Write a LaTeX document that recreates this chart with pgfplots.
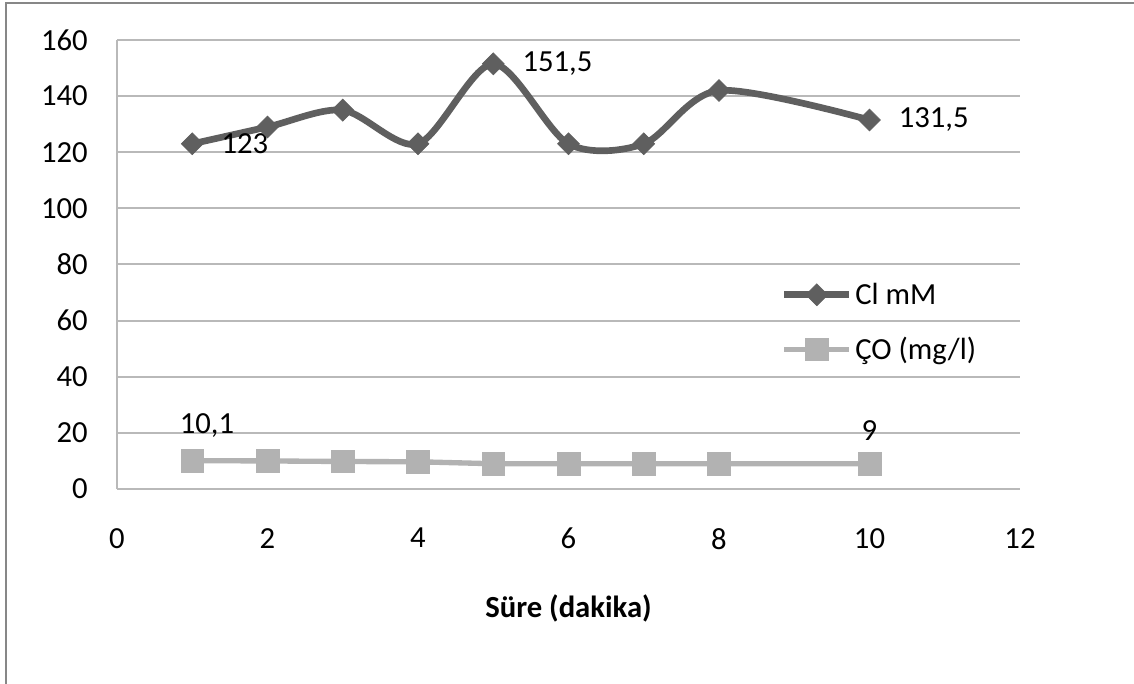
\documentclass[border=0pt]{standalone}
\usepackage{fontspec}
\setmainfont{Carlito}
\usepackage{pgfplots}
\pgfplotsset{compat=1.18}
\usepackage{pgfplotstable}

\definecolor{clgray}{RGB}{95,95,95}
\definecolor{cogray}{RGB}{178,178,178}
\definecolor{gridgray}{RGB}{185,185,185}
\definecolor{framegray}{RGB}{135,135,135}

\newcommand{\chartfont}{\fontsize{23}{27}\selectfont}

% time (min), value, label, label x-offset (pt)
\pgfplotstableread{
x   y      lab    dx
1   123    123    0
2   129    {}     0
3   135    {}     0
4   123    {}     0
5   151.5  151,5  0
6   123    {}     0
7   123    {}     0
8   142    {}     0
10  131.5  131,5  0
}\cltable

\pgfplotstableread{
x   y      lab    dx
1   10.1   10,1   11
2   10     {}     0
3   9.8    {}     0
4   9.7    {}     0
5   9      {}     0
6   9      {}     0
7   9      {}     0
8   9      {}     0
10  9      9      0
}\cotable

\begin{document}
\begin{tikzpicture}
\useasboundingbox (0,0) rectangle (850.5pt,513pt);
\draw[framegray, line width=1.5pt] (4.5pt,0) -- (4.5pt,510.5pt) -- (850.5pt,510.5pt);
\begin{axis}[
  at={(87.75pt,146.25pt)}, anchor=south west,
  width=677.25pt, height=336.75pt, scale only axis,
  xmin=0, xmax=12, ymin=0, ymax=160,
  xtick={0,2,...,12}, ytick={0,20,...,160},
  axis x line*=bottom, axis y line*=left,
  axis line style={gridgray, line width=1.5pt, -},
  ymajorgrids, major grid style={gridgray, line width=1.5pt},
  major tick length=0pt,
  /pgf/number format/assume math mode=true,
  tick label style={font=\chartfont, inner sep=0pt, text=black},
  yticklabel style={xshift=-21.75pt},
  xticklabel style={yshift=-29.25pt},
  xlabel={\bfseries Süre (dakika)},
  xlabel style={at={(axis description cs:0.5,0)}, anchor=north, yshift=-78.75pt, inner sep=0pt, font=\chartfont},
  legend style={at={(axis description cs:0.735,0.465)}, anchor=north west,
    draw=none, fill=none, inner sep=0pt, row sep=19pt, font=\chartfont},
  legend cell align=left,
  legend image code/.code={%
    \draw[#1, mark repeat=2, mark phase=2] plot coordinates {(0pt,0pt) (24.4pt,0pt) (48.75pt,0pt)};},
  clip=false,
  point meta=explicit symbolic,
  nodes near coords,
]
\addplot[clgray, line width=5pt, smooth, mark=square*, mark size=5.8pt,
  mark options={rotate=45, solid, fill=clgray, line width=0.5pt},
  visualization depends on={\thisrow{dx}\as\dx},
  every node near coord/.append style={anchor=west, inner sep=0pt, xshift=21.75pt, font=\chartfont, text=black}]
  table[x=x, y=y, meta=lab] {\cltable};
\addlegendentry{Cl mM}
\addplot[cogray, line width=4pt, mark=square*, mark size=8.5pt,
  mark options={solid, fill=cogray, line width=0.5pt},
  visualization depends on={\thisrow{dx}\as\dx},
  every node near coord/.append style={anchor=south, inner sep=0pt, yshift=17pt, xshift=\dx pt, font=\chartfont, text=black}]
  table[x=x, y=y, meta=lab] {\cotable};
\addlegendentry{ÇO (mg/l)}
\end{axis}
\end{tikzpicture}
\end{document}
